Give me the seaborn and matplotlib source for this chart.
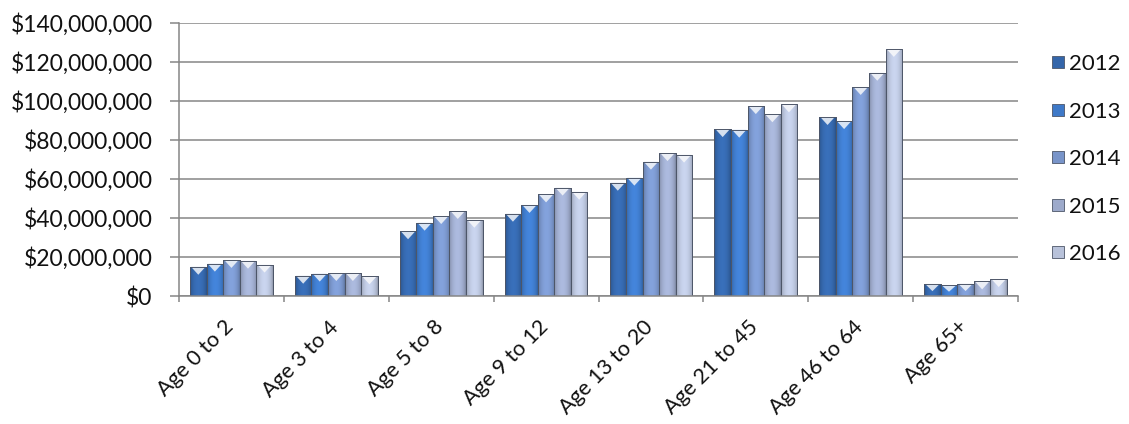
import numpy as np
import pandas as pd
import matplotlib
matplotlib.use("Agg")
import matplotlib.pyplot as plt
import matplotlib.colors as mcolors
import matplotlib.transforms as mtrans
from matplotlib.patches import Polygon
from matplotlib.lines import Line2D
from matplotlib.ticker import FuncFormatter
import seaborn as sns

# ---- data ----
categories = ["Age 0 to 2", "Age 3 to 4", "Age 5 to 8", "Age 9 to 12",
              "Age 13 to 20", "Age 21 to 45", "Age 46 to 64", "Age 65+"]
years = ["2012", "2013", "2014", "2015", "2016"]
v2012 = [15.0e6, 10.4e6, 33.2e6, 42.2e6, 58.1e6, 85.6e6, 91.8e6, 6.2e6]
v2013 = [16.6e6, 11.5e6, 37.6e6, 46.7e6, 60.7e6, 85.3e6, 89.7e6, 5.5e6]
v2014 = [18.5e6, 11.8e6, 41.0e6, 52.1e6, 68.9e6, 97.4e6, 107.2e6, 6.3e6]
v2015 = [18.1e6, 11.8e6, 43.6e6, 55.6e6, 73.3e6, 93.2e6, 114.5e6, 7.5e6]
v2016 = [16.1e6, 10.1e6, 39.1e6, 53.5e6, 72.5e6, 98.3e6, 126.7e6, 8.7e6]
yticks = [0, 20e6, 40e6, 60e6, 80e6, 100e6, 120e6, 140e6]

colors = ["#3466aa", "#3e79c8", "#7894c9", "#9daacb", "#b8c2da"]

rows = []
for yr, vals in zip(years, [v2012, v2013, v2014, v2015, v2016]):
    for c, v in zip(categories, vals):
        rows.append({"age": c, "year": yr, "value": v})
df = pd.DataFrame(rows)

sns.set_theme(style="white")
plt.rcParams["font.family"] = ["Lato", "DejaVu Sans"]

fig = plt.figure(figsize=(11.29, 4.24), dpi=100)
ax = fig.add_axes([179 / 1129, 1 - 296 / 424, (1018 - 179) / 1129, (296 - 23) / 424])

sns.barplot(data=df, x="age", y="value", hue="year", order=categories,
            hue_order=years, palette=colors, saturation=1, width=0.79,
            edgecolor="#4d5668", linewidth=0.7, ax=ax, legend=False,
            errorbar=None)

ax.set_ylim(0, 140e6)
ax.set_xlim(-0.5, len(categories) - 0.5)

# cylinder-like shading and bevel on each bar
px_per_unit = (296 - 23) / 140e6
tri_h = 8 / px_per_unit
prof = np.linspace(0, 1, 40)
shade = 0.78 + 0.32 * np.sin(np.pi * prof) ** 0.6
for patch in list(ax.patches):
    x0, y0 = patch.get_x(), patch.get_y()
    w, h = patch.get_width(), patch.get_height()
    if h <= 0:
        continue
    base = np.array(mcolors.to_rgb(patch.get_facecolor()))
    img = np.clip(base[None, None, :] * shade[None, :, None], 0, 1)
    im = ax.imshow(img, extent=(x0, x0 + w, y0, y0 + h), aspect="auto",
                   zorder=patch.get_zorder() + 0.1, interpolation="bilinear")
    im.set_clip_path(patch)
    light = base + (1 - base) * 0.8
    th = min(tri_h, h * 0.6)
    tri = Polygon([(x0 + w * 0.06, y0 + h), (x0 + w * 0.94, y0 + h),
                   (x0 + w / 2, y0 + h - th)], closed=True,
                  facecolor=light, edgecolor="none",
                  zorder=patch.get_zorder() + 0.2)
    ax.add_patch(tri)
    outline = plt.Rectangle((x0, y0), w, h, facecolor="none",
                            edgecolor="#4d5668", linewidth=0.7,
                            zorder=patch.get_zorder() + 0.3)
    ax.add_patch(outline)

ax.set_ylim(0, 140e6)
ax.set_xlim(-0.5, len(categories) - 0.5)
ax.set_aspect("auto")

# axes styling
grid_c = "#868686"
ax.set_yticks(yticks)
ax.yaxis.set_major_formatter(FuncFormatter(lambda v, p: f"${v:,.0f}"))
ax.yaxis.grid(True, color=grid_c, linewidth=1.1)
ax.set_axisbelow(True)
for s in ["top", "right"]:
    ax.spines[s].set_visible(False)
for s in ["left", "bottom"]:
    ax.spines[s].set_color(grid_c)
    ax.spines[s].set_linewidth(1.1)
ax.tick_params(axis="y", which="major", left=True, length=6.5, width=1.1,
               color=grid_c, pad=12.5, labelsize=16.5, labelcolor="#111111")
ax.set_xticks(np.arange(-0.5, len(categories), 1), minor=True)
ax.tick_params(axis="x", which="minor", bottom=True, length=4.5, width=1.1,
               color=grid_c)
ax.tick_params(axis="x", which="major", length=0, pad=15)
ax.set_xticks(range(len(categories)))
ax.set_xticklabels(categories, rotation=45, ha="right",
                   rotation_mode="anchor", fontsize=15.5, color="#111111")
shift = mtrans.ScaledTranslation(-8 / 100, 0, fig.dpi_scale_trans)
for lab in ax.get_xticklabels():
    lab.set_va("top")
    lab.set_transform(lab.get_transform() + shift)
ax.set_xlabel("")
ax.set_ylabel("")

# legend
handles = [Line2D([], [], linestyle="none", marker="s", markersize=8,
                  markerfacecolor=c, markeredgecolor="#4d5668",
                  markeredgewidth=0.6) for c in colors]
fig.legend(handles, years, loc="upper left",
           bbox_to_anchor=(1031 / 1129, 1 - 34 / 424), frameon=False,
           fontsize=16, handlelength=0.6, handletextpad=0.2,
           labelspacing=1.24, labelcolor="#111111")

fig.savefig("out.png", dpi=100)
